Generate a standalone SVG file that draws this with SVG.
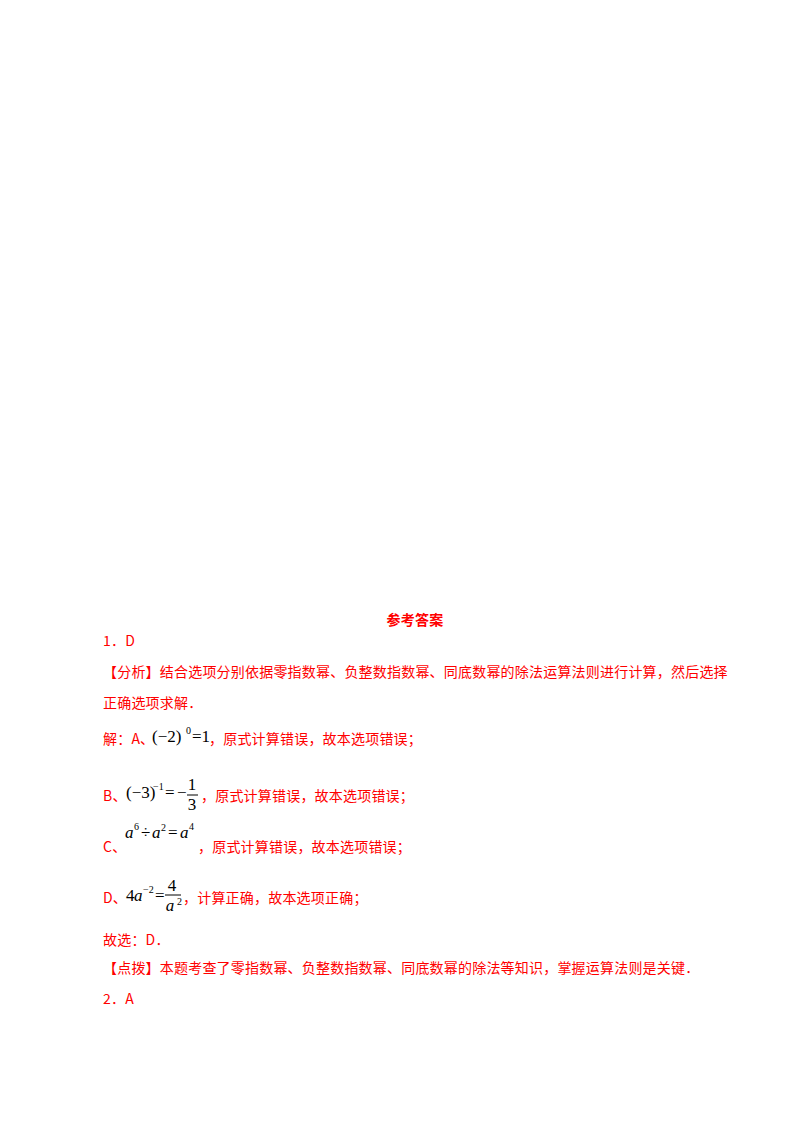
<svg xmlns="http://www.w3.org/2000/svg" width="800" height="1132" viewBox="0 0 800 1132">
<style>
.t{font-family:"Noto Sans CJK SC","Noto Sans",sans-serif;font-size:14px;fill:#ff0000;letter-spacing:0.2px}
.m{font-family:"Liberation Serif",serif;font-size:17px;fill:#000}
.mi{font-family:"Liberation Serif",serif;font-size:17px;fill:#000;font-style:italic}
.s{font-family:"Liberation Serif",serif;font-size:10px;fill:#000}
</style>
<rect width="800" height="1132" fill="#fff"/>
<text x="415" y="625" text-anchor="middle" class="t" style="font-weight:bold">参考答案</text>
<text x="103" y="646" class="t">1．D</text>
<text x="103" y="677" class="t">【分析】结合选项分别依据零指数幂、负整数指数幂、同底数幂的除法运算法则进行计算，然后选择</text>
<text x="103" y="708" class="t">正确选项求解．</text>
<text x="103" y="744" class="t">解：A、</text>
<text x="152" y="742" class="m">(−2)</text><text x="186" y="734" class="s">0</text><text x="192" y="742" class="m">=1</text>
<text x="209" y="744" class="t">，原式计算错误，故本选项错误；</text>
<text x="103" y="801" class="t">B、</text>
<text x="126" y="798" class="m">(−3)</text><text x="153" y="790" class="s">−1</text><text x="165" y="798" class="m">=</text><text x="177" y="798" class="m">−</text>
<text x="192" y="790" class="m" text-anchor="middle">1</text><line x1="187" y1="795" x2="198" y2="795" stroke="#000"/><text x="192" y="810" class="m" text-anchor="middle">3</text>
<text x="201" y="801" class="t">，原式计算错误，故本选项错误；</text>
<text x="103" y="852" class="t">C、</text>
<text x="125" y="838" class="mi">a</text><text x="134" y="830" class="s">6</text><text x="141" y="838" class="m">÷</text><text x="152" y="838" class="mi">a</text><text x="161" y="831" class="s">2</text><text x="168" y="838" class="m">=</text><text x="180" y="838" class="mi">a</text><text x="189" y="830" class="s">4</text>
<text x="198" y="852" class="t">，原式计算错误，故本选项错误；</text>
<text x="103" y="903" class="t">D、</text>
<text x="126" y="901" class="m">4</text><text x="134" y="901" class="mi">a</text><text x="143" y="893" class="s">−2</text><text x="155" y="901" class="m">=</text>
<text x="172" y="891" class="m" text-anchor="middle">4</text><line x1="165" y1="895" x2="181" y2="895" stroke="#000"/><text x="170" y="911" class="mi" text-anchor="middle">a</text><text x="177" y="905" class="s">2</text>
<text x="183" y="903" class="t">，计算正确，故本选项正确；</text>
<text x="103" y="945" class="t">故选：D．</text>
<text x="103" y="973" class="t">【点拨】本题考查了零指数幂、负整数指数幂、同底数幂的除法等知识，掌握运算法则是关键．</text>
<text x="103" y="1004" class="t">2．A</text>
</svg>
